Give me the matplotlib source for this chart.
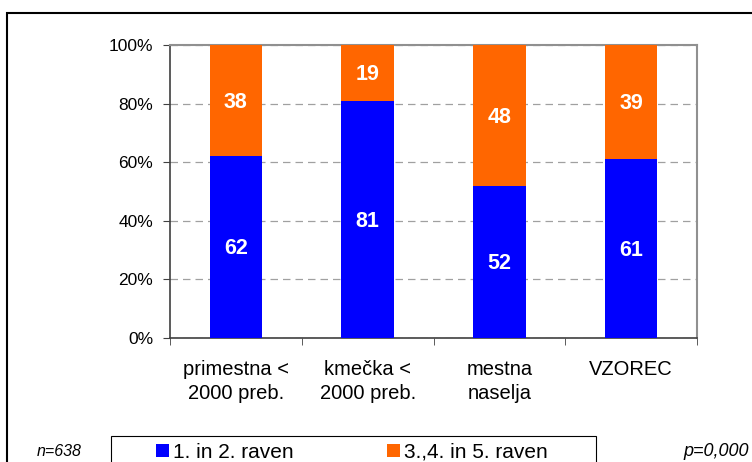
import numpy as np
import matplotlib.pyplot as plt
from matplotlib.patches import Rectangle, Patch

plt.rcParams['font.family'] = ['Liberation Sans', 'DejaVu Sans']

categories = ['primestna <\n2000 preb.', 'kmečka <\n2000 preb.', 'mestna\nnaselja', 'VZOREC']
low = np.array([62, 81, 52, 61])     # 1. in 2. raven
high = np.array([38, 19, 48, 39])    # 3.,4. in 5. raven
series_names = ['1. in 2. raven', '3.,4. in 5. raven']
colors = ['#0000FF', '#FF6600']

W, H = 752, 462
fig = plt.figure(figsize=(W / 100, H / 100), dpi=100)
ax = fig.add_axes([170 / W, 1 - 338 / H, (697 - 170) / W, (338 - 45) / H])

x = np.arange(len(categories))
b1 = ax.bar(x, low, width=0.4, color=colors[0], zorder=3)
b2 = ax.bar(x, high, width=0.4, bottom=low, color=colors[1], zorder=3)

for vals, base in ((low, np.zeros(4)), (high, low)):
    for xi, v, b0 in zip(x, vals, base):
        ax.text(xi, b0 + v / 2 - 0.6, str(v), ha='center', va='center', color='white',
                fontsize=15.5, fontweight='bold', zorder=4)

ax.set_xlim(-0.5, len(categories) - 0.5)
ax.set_ylim(0, 100)
ax.set_yticks(np.arange(0, 101, 20))
ax.set_yticklabels([f'{v}%' for v in range(0, 101, 20)], fontsize=12.5)
ax.yaxis.grid(True, linestyle=(0, (6, 4)), color='#A0A0A0', linewidth=0.9, zorder=0)

ax.set_xticks(x)
ax.set_xticklabels(categories, fontsize=14.5, linespacing=1.3)
ax.tick_params(axis='x', which='major', length=0, pad=16)
ax.set_xticks(np.arange(-0.5, len(categories)), minor=True)
ax.tick_params(axis='x', which='minor', length=5, color='#404040')
ax.tick_params(axis='y', length=5, color='#404040', pad=7)

for s in ('top', 'right'):
    ax.spines[s].set_color('#909090')
    ax.spines[s].set_linewidth(1.5)
for s in ('left', 'bottom'):
    ax.spines[s].set_color('#404040')
    ax.spines[s].set_linewidth(1.2)

# outer frame of the figure
fig.patches.append(Rectangle((7 / W, -0.1), 1.2, 1 - 13 / H + 0.1, transform=fig.transFigure,
                             fill=False, edgecolor='black', linewidth=1.5))

# legend box
fig.patches.append(Rectangle((111 / W, -0.1), (596 - 111) / W, 0.1 + 1 - 436 / H,
                             transform=fig.transFigure, fill=False, edgecolor='black', linewidth=0.8))
handles = [Patch(facecolor=c, edgecolor='none') for c in colors]
fig.legend(handles, series_names, loc='center left', bbox_to_anchor=(156 / W, 1 - 452 / H),
           ncol=2, frameon=False, fontsize=15, handlelength=0.6, handleheight=0.6,
           handletextpad=0.2, columnspacing=4.5, borderaxespad=0, borderpad=0)

fig.text(37 / W, 1 - 452 / H, 'n=638', fontsize=11.5, style='italic', va='center')
fig.text(749 / W, 1 - 452 / H, 'p=0,000', fontsize=13, style='italic', va='center', ha='right')

fig.savefig('out.png', dpi=100)
